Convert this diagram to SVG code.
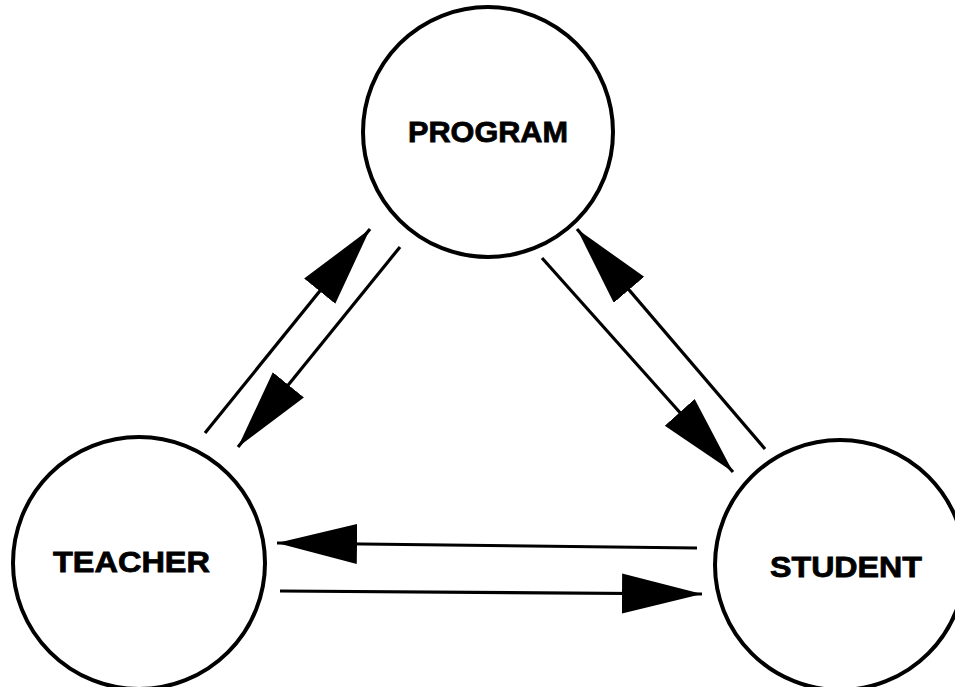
<svg xmlns="http://www.w3.org/2000/svg" width="955" height="687" viewBox="0 0 955 687">
<style>
.node{fill:#fff;stroke:#000;stroke-width:4}
.lbl{font-family:"Liberation Sans",Arial,sans-serif;font-weight:bold;font-size:30px;fill:#000;stroke:#000;stroke-width:0.8;text-anchor:middle}
.conn{stroke:#000;stroke-width:3.2;fill:none;marker-end:url(#ah)}
</style>
<defs>
<marker id="ah" markerUnits="userSpaceOnUse" markerWidth="82" markerHeight="42" refX="80" refY="20" orient="auto" viewBox="0 0 82 42">
<path d="M0,0 L80,20 L0,40 Z" fill="#000"/>
</marker>
</defs>
<rect width="955" height="687" fill="#fff"/>
<g id="program">
<circle class="node" cx="488" cy="132" r="125"/>
<text class="lbl" x="488" y="142" textLength="160" lengthAdjust="spacingAndGlyphs">PROGRAM</text>
</g>
<g id="teacher">
<circle class="node" cx="139" cy="563" r="126"/>
<text class="lbl" x="131.5" y="572" textLength="157" lengthAdjust="spacingAndGlyphs">TEACHER</text>
</g>
<g id="student">
<circle class="node" cx="840" cy="565" r="125"/>
<text class="lbl" x="846" y="577" textLength="152" lengthAdjust="spacingAndGlyphs">STUDENT</text>
</g>
<g id="connectors">
<line class="conn" x1="205" y1="433" x2="370" y2="229"/>
<line class="conn" x1="400" y1="247" x2="238" y2="447"/>
<line class="conn" x1="542" y1="258" x2="733" y2="472"/>
<line class="conn" x1="765" y1="449" x2="577" y2="229"/>
<line class="conn" x1="697" y1="548" x2="277" y2="543"/>
<line class="conn" x1="280" y1="591" x2="702" y2="594"/>
</g>
</svg>
